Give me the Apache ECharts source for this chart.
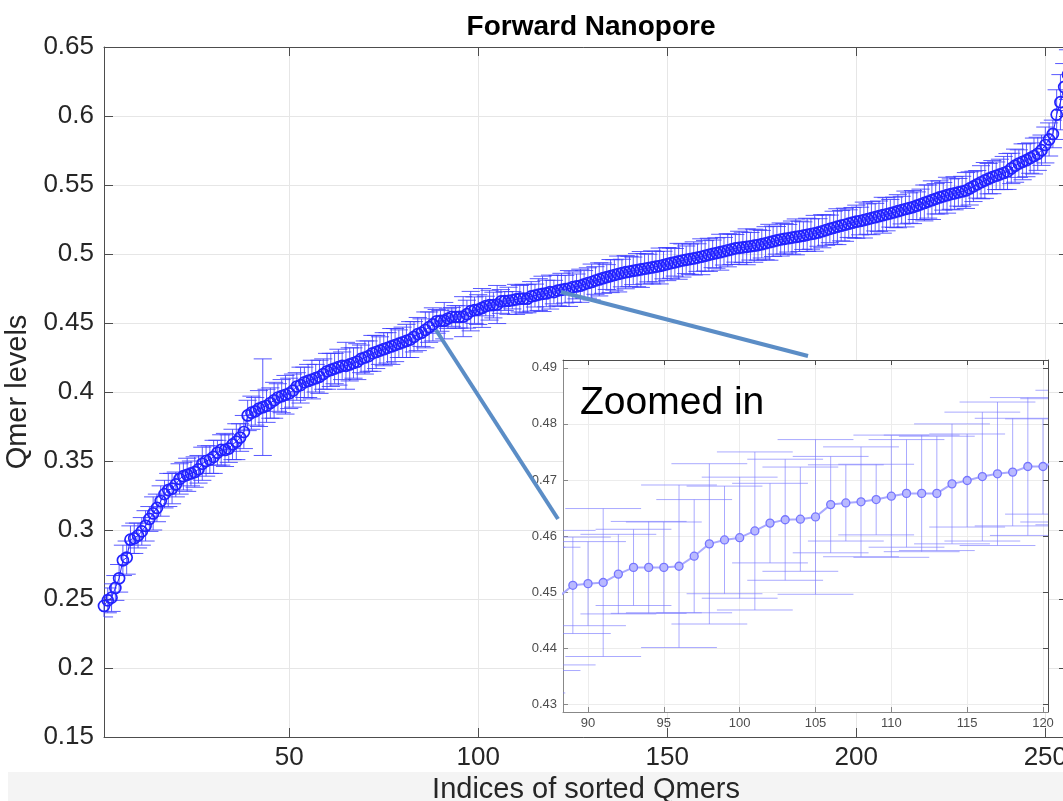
<!DOCTYPE html>
<html>
<head>
<meta charset="utf-8">
<title>Forward Nanopore</title>
<script src="https://cdn.jsdelivr.net/npm/echarts@6/dist/echarts.min.js"></script>
<style>
  html, body { margin: 0; background: #fff; }
  #chart { width: 1063px; height: 801px; }
</style>
</head>
<body>
<div id="chart"></div>
<script>
// sorted qmer levels (index 1..256)
var qmerLevels = [
  0.245, 0.249, 0.251, 0.258, 0.265, 0.278, 0.280, 0.293, 0.294, 0.296,
  0.299, 0.303, 0.308, 0.312, 0.316, 0.321, 0.326, 0.329, 0.330, 0.333,
  0.337, 0.339, 0.340, 0.341, 0.342, 0.344, 0.348, 0.350, 0.351, 0.353,
  0.356, 0.358, 0.358, 0.359, 0.362, 0.364, 0.367, 0.371, 0.383, 0.385,
  0.386, 0.388, 0.389, 0.390, 0.392, 0.394, 0.396, 0.397, 0.398, 0.399,
  0.401, 0.404, 0.405, 0.407, 0.408, 0.409, 0.410, 0.411, 0.413, 0.415,
  0.416, 0.417, 0.418, 0.419, 0.419, 0.420, 0.421, 0.422, 0.424, 0.425,
  0.426, 0.428, 0.429, 0.430, 0.431, 0.432, 0.433, 0.434, 0.435, 0.436,
  0.437, 0.438, 0.440, 0.442, 0.443, 0.445, 0.447, 0.449, 0.4512, 0.4515,
  0.4517, 0.4532, 0.4544, 0.4544, 0.4544, 0.4546, 0.4564, 0.4586, 0.4593, 0.4597,
  0.4609, 0.4623, 0.4629, 0.4630, 0.4634, 0.4656, 0.4659, 0.4661, 0.4665, 0.4671,
  0.4676, 0.4676, 0.4676, 0.4693, 0.4699, 0.4706, 0.4711, 0.4714, 0.4724, 0.4724,
  0.4735, 0.4740, 0.4745, 0.4750, 0.4760, 0.4765, 0.4770, 0.4780, 0.4790, 0.4797,
  0.4808, 0.4816, 0.4825, 0.4833, 0.4840, 0.4848, 0.4855, 0.4862, 0.4868, 0.4873,
  0.4878, 0.4883, 0.4888, 0.4893, 0.4898, 0.4903, 0.4908, 0.4913, 0.4920, 0.4927,
  0.4934, 0.4940, 0.4947, 0.4953, 0.4958, 0.4963, 0.4968, 0.4974, 0.4980, 0.4987,
  0.4994, 0.5001, 0.5007, 0.5013, 0.5020, 0.5027, 0.5034, 0.5041, 0.5045, 0.5048,
  0.5052, 0.5056, 0.5060, 0.5065, 0.5071, 0.5078, 0.5085, 0.5092, 0.5099, 0.5105,
  0.5110, 0.5114, 0.5119, 0.5124, 0.5128, 0.5133, 0.5139, 0.5145, 0.5150, 0.5156,
  0.5165, 0.5173, 0.5182, 0.5190, 0.5198, 0.5205, 0.5212, 0.5220, 0.5227, 0.5234,
  0.5239, 0.5246, 0.5253, 0.5260, 0.5267, 0.5274, 0.5281, 0.5288, 0.5295, 0.5302,
  0.5310, 0.5318, 0.5326, 0.5333, 0.5340, 0.5350, 0.5360, 0.5370, 0.5380, 0.5390,
  0.5400, 0.5410, 0.5418, 0.5426, 0.5434, 0.5440, 0.5447, 0.5453, 0.5460, 0.5475,
  0.5490, 0.5505, 0.5520, 0.5533, 0.5546, 0.5557, 0.5567, 0.5577, 0.5587, 0.5598,
  0.5620, 0.5640, 0.5655, 0.5668, 0.5680, 0.5695, 0.5710, 0.5726, 0.5752, 0.5790,
  0.5830, 0.5870, 0.6010, 0.6100, 0.6210, 0.6300
]

// error (half length of each bar)
var qmerErrors = [
  0.008, 0.009, 0.010, 0.009, 0.010, 0.011, 0.012, 0.010, 0.011, 0.009,
  0.010, 0.011, 0.009, 0.012, 0.010, 0.011, 0.010, 0.012, 0.011, 0.009,
  0.011, 0.010, 0.012, 0.009, 0.011, 0.010, 0.012, 0.011, 0.010, 0.012,
  0.009, 0.011, 0.012, 0.010, 0.011, 0.013, 0.010, 0.012, 0.011, 0.012,
  0.010, 0.013, 0.035, 0.012, 0.011, 0.013, 0.010, 0.012, 0.014, 0.011,
  0.012, 0.010, 0.013, 0.011, 0.012, 0.014, 0.010, 0.012, 0.011, 0.013,
  0.012, 0.011, 0.013, 0.010, 0.017, 0.012, 0.011, 0.013, 0.010, 0.012,
  0.011, 0.013, 0.012, 0.010, 0.012, 0.011, 0.013, 0.012, 0.010, 0.011,
  0.012, 0.013, 0.011, 0.012, 0.010, 0.013, 0.011, 0.012, 0.0086, 0.0075,
  0.0132, 0.0071, 0.0068, 0.0082, 0.0081, 0.0145, 0.0101, 0.0143, 0.0096, 0.0108,
  0.0141, 0.0071, 0.0108, 0.0093, 0.0138, 0.0086, 0.0068, 0.0098, 0.0063, 0.0109,
  0.0096, 0.0104, 0.0102, 0.0107, 0.0083, 0.0115, 0.0128, 0.0096, 0.0123, 0.0085,
  0.011, 0.012, 0.010, 0.013, 0.011, 0.009, 0.012, 0.010, 0.011, 0.013,
  0.010, 0.012, 0.011, 0.009, 0.012, 0.011, 0.013, 0.010, 0.012, 0.011,
  0.010, 0.012, 0.013, 0.011, 0.010, 0.012, 0.011, 0.013, 0.010, 0.012,
  0.011, 0.010, 0.013, 0.012, 0.010, 0.011, 0.012, 0.010, 0.013, 0.011,
  0.012, 0.010, 0.011, 0.013, 0.010, 0.012, 0.011, 0.010, 0.012, 0.011,
  0.013, 0.010, 0.012, 0.011, 0.010, 0.012, 0.013, 0.011, 0.010, 0.012,
  0.011, 0.010, 0.012, 0.013, 0.011, 0.010, 0.012, 0.011, 0.013, 0.010,
  0.012, 0.011, 0.010, 0.012, 0.013, 0.011, 0.012, 0.010, 0.011, 0.012,
  0.010, 0.013, 0.011, 0.012, 0.010, 0.011, 0.013, 0.012, 0.010, 0.011,
  0.012, 0.010, 0.013, 0.011, 0.012, 0.010, 0.011, 0.013, 0.012, 0.014,
  0.011, 0.012, 0.010, 0.013, 0.011, 0.012, 0.010, 0.011, 0.013, 0.012,
  0.011, 0.010, 0.012, 0.013, 0.011, 0.012, 0.010, 0.011, 0.012, 0.013,
  0.011, 0.012, 0.010, 0.013, 0.012, 0.011, 0.013, 0.012, 0.011, 0.013,
  0.012, 0.010, 0.018, 0.020, 0.017, 0.018
]

var mainTicksX = [50, 100, 150, 200, 250]
var zoomTicksX = [90, 95, 100, 105, 110, 115, 120]
var zoomTicksY = [0.43, 0.44, 0.45, 0.46, 0.47, 0.48, 0.49]

var font = 'Liberation Sans, Arial, Helvetica, sans-serif'

var points = qmerLevels.map(function (v, i) { return [i + 1, v] })
var bars = qmerLevels.map(function (v, i) { return [i + 1, v - qmerErrors[i], v + qmerErrors[i]] })

// error bar with caps, clipped to its grid
function errorBars(capHalf) {
  return function (params, api) {
    var cs = params.coordSys
    var idx = api.value(0)
    var top = api.coord([idx, api.value(2)])
    var bot = api.coord([idx, api.value(1)])
    var x = top[0]
    var x0 = cs.x, x1 = cs.x + cs.width, y0 = cs.y, y1 = cs.y + cs.height
    var h = api.size([capHalf, 0])[0]
    var style = api.style({ stroke: api.visual('color'), fill: null })
    var kids = []
    if (x >= x0 - 0.5 && x <= x1 + 0.5) {
      var t = Math.max(top[1], y0), b = Math.min(bot[1], y1)
      if (t < b) kids.push({ type: 'line', shape: { x1: x, y1: t, x2: x, y2: b }, style: style })
    }
    [top[1], bot[1]].forEach(function (y) {
      if (y < y0 || y > y1) return
      var a = Math.max(x - h, x0), c = Math.min(x + h, x1)
      if (a < c) kids.push({ type: 'line', shape: { x1: a, y1: y, x2: c, y2: y }, style: style })
    })
    return { type: 'group', children: kids }
  }
}

var axisGray = '#4d4d4d'
var gridGray = '#e6e6e6'

function boxAxis(gridIndex, position, min, max, ticks, tickLen, z) {
  return {
    type: 'value', gridIndex: gridIndex, position: position, min: min, max: max, z: z,
    axisLine: { onZero: false, lineStyle: { color: axisGray, width: 1 } },
    axisTick: { inside: true, length: tickLen, customValues: ticks, lineStyle: { color: axisGray } },
    axisLabel: { show: false },
    splitLine: { show: false }
  }
}

var option = {
  animation: false,
  backgroundColor: '#fff',
  title: {
    text: 'Forward Nanopore',
    left: 586,
    top: 8,
    textAlign: 'center',
    textStyle: { fontFamily: font, fontSize: 28, fontWeight: 'bold', color: '#000' }
  },
  grid: [
    { left: 104, top: 47, width: 964, height: 690, outerBoundsMode: 'none', containLabel: false },
    {
      left: 563, top: 360, width: 485, height: 352, outerBoundsMode: 'none', containLabel: false,
      show: true, backgroundColor: '#fff', borderWidth: 0, z: 20
    }
  ],
  xAxis: [
    {
      type: 'value', gridIndex: 0, min: 1, max: 256, z: 1,
      name: 'Indices of sorted Qmers', nameLocation: 'middle', nameGap: 36,
      nameTextStyle: { fontFamily: font, fontSize: 29, color: '#262626' },
      axisLine: { onZero: false, lineStyle: { color: axisGray } },
      axisTick: { inside: true, length: 9, customValues: mainTicksX, lineStyle: { color: axisGray } },
      axisLabel: { customValues: mainTicksX, margin: 8, fontFamily: font, fontSize: 26, color: '#262626' },
      splitLine: { show: true, lineStyle: { color: gridGray } }
    },
    boxAxis(0, 'top', 1, 256, mainTicksX, 9, 1),
    {
      type: 'value', gridIndex: 1, min: 88.35, max: 120.33, z: 21,
      axisLine: { onZero: false, lineStyle: { color: '#888' } },
      axisTick: { inside: true, length: 5, customValues: zoomTicksX, lineStyle: { color: '#888' } },
      axisLabel: { customValues: zoomTicksX, margin: 5, fontFamily: font, fontSize: 13, color: '#4d4d4d' },
      splitLine: { show: true, lineStyle: { color: '#ececec' } }
    },
    boxAxis(1, 'top', 88.35, 120.33, zoomTicksX, 5, 21)
  ],
  yAxis: [
    {
      type: 'value', gridIndex: 0, min: 0.15, max: 0.65, interval: 0.05, z: 1,
      name: 'Qmer levels', nameLocation: 'middle', nameGap: 67,
      nameTextStyle: { fontFamily: font, fontSize: 29, color: '#262626' },
      axisLine: { onZero: false, lineStyle: { color: axisGray } },
      axisTick: { inside: true, length: 9, lineStyle: { color: axisGray } },
      axisLabel: { margin: 10, fontFamily: font, fontSize: 26, color: '#262626' },
      splitLine: { show: true, lineStyle: { color: gridGray } }
    },
    {
      type: 'value', gridIndex: 0, position: 'right', min: 0.15, max: 0.65, interval: 0.05, z: 1,
      axisLine: { onZero: false, lineStyle: { color: axisGray } },
      axisTick: { inside: true, length: 9, lineStyle: { color: axisGray } },
      axisLabel: { show: false },
      splitLine: { show: false }
    },
    {
      type: 'value', gridIndex: 1, min: 0.4286, max: 0.4914, z: 21,
      axisLine: { onZero: false, lineStyle: { color: '#888' } },
      axisTick: { inside: true, length: 5, customValues: zoomTicksY, lineStyle: { color: '#888' } },
      axisLabel: { customValues: zoomTicksY, margin: 6, fontFamily: font, fontSize: 13, color: '#4d4d4d' },
      splitLine: { show: true, lineStyle: { color: '#ececec' } }
    },
    boxAxis(1, 'right', 0.4286, 0.4914, zoomTicksY, 5, 21)
  ],
  series: [
    {
      type: 'custom', xAxisIndex: 0, yAxisIndex: 0, z: 2,
      renderItem: errorBars(2.4),
      itemStyle: { color: 'rgba(60, 60, 255, 0.85)', borderWidth: 1 },
      encode: { x: 0, y: [1, 2] },
      data: bars
    },
    {
      type: 'line', xAxisIndex: 0, yAxisIndex: 0, z: 3,
      symbol: 'circle', symbolSize: 11,
      itemStyle: { color: 'rgba(0, 0, 0, 0)', borderColor: '#2222ff', borderWidth: 1.7 },
      lineStyle: { color: '#2222ff', width: 1 },
      data: points
    },
    {
      type: 'custom', xAxisIndex: 2, yAxisIndex: 2, z: 22,
      renderItem: errorBars(2.5),
      itemStyle: { color: 'rgba(125, 125, 255, 0.65)' },
      encode: { x: 0, y: [1, 2] },
      data: bars.filter(function (d) { return d[0] > 80 && d[0] < 130 })
    },
    {
      type: 'line', xAxisIndex: 2, yAxisIndex: 2, z: 23,
      symbol: 'circle', symbolSize: 8,
      itemStyle: { color: '#b9b9ff', borderColor: '#7575ff', borderWidth: 1.3 },
      lineStyle: { color: '#a9a9ff', width: 2 },
      data: points.filter(function (d) { return d[0] > 80 && d[0] < 130 })
    }
  ],
  graphic: [
    { type: 'rect', z: 0, shape: { x: 8, y: 772, width: 1055, height: 29 }, style: { fill: '#f4f4f4' } },
    { type: 'line', z: 50, shape: { x1: 561, y1: 292, x2: 808, y2: 356 }, style: { stroke: '#5b8dc6', lineWidth: 4 } },
    { type: 'line', z: 50, shape: { x1: 436, y1: 330, x2: 558, y2: 519 }, style: { stroke: '#5b8dc6', lineWidth: 4 } },
    { type: 'text', z: 50, left: 580, top: 384, style: { text: 'Zoomed in', font: '39px ' + font, fill: '#000' } }
  ]
}

var chart = echarts.init(document.getElementById('chart'))
chart.setOption(option)
</script>
</body>
</html>
